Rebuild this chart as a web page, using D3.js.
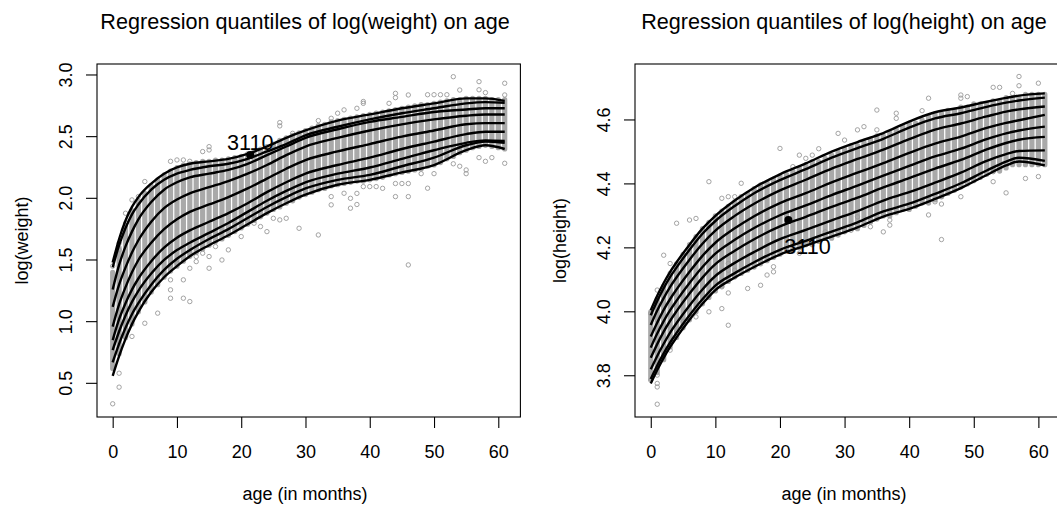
<!DOCTYPE html>
<html>
<head>
<meta charset="utf-8">
<script src="https://cdn.jsdelivr.net/npm/d3@7"></script>
<style>
body { margin: 0; background: #fff; }
text { font-family: "Liberation Sans", Arial, Helvetica, sans-serif; fill: #000; }
</style>
</head>
<body>
<svg id="chart" width="1057" height="508"></svg>
<script>
// ages in months (one column of children per month)
var ages = d3.range(0, 62);
var xTicks = [0, 10, 20, 30, 40, 50, 60];

// ---------- log(weight) panel ----------
var wYTicks = [0.5, 1.0, 1.5, 2.0, 2.5, 3.0];
// dense band of points for each month (low / high end of the grey column)
var wLo = [0.62,0.74,0.87,0.98,1.08,1.16,1.24,1.30,1.36,1.41,1.45,1.49,1.53,1.56,1.59,1.62,1.65,1.67,1.70,1.73,
  1.76,1.79,1.82,1.85,1.88,1.91,1.93,1.96,1.98,2.01,2.03,2.05,2.07,2.08,2.10,2.11,2.12,2.13,2.14,2.14,
  2.15,2.16,2.17,2.19,2.20,2.21,2.22,2.23,2.24,2.26,2.27,2.29,2.32,2.34,2.37,2.39,2.41,2.42,2.43,2.42,2.41,2.40];
var wHi = [1.40,1.60,1.78,1.90,1.98,2.04,2.10,2.15,2.19,2.22,2.25,2.27,2.28,2.29,2.30,2.30,2.31,2.31,2.32,2.33,
  2.34,2.36,2.38,2.40,2.42,2.44,2.47,2.49,2.51,2.53,2.55,2.57,2.59,2.60,2.62,2.63,2.64,2.65,2.66,2.67,
  2.68,2.69,2.70,2.71,2.72,2.73,2.74,2.75,2.76,2.76,2.77,2.78,2.79,2.80,2.80,2.81,2.81,2.81,2.81,2.80,2.80,2.80];
// scattered points outside the dense band [age, log(weight)]
var wOut = [[53,2.986],[57,2.946],[61,2.933],[61,2.838],[54,2.878],[58,2.857],[44,2.851],[46,2.838],[44,2.816],
  [49,2.84],[50,2.84],[51,2.84],[52,2.84],[57,2.88],[39,2.77],[39,2.785],[38,2.73],[43,2.77],[36,2.717],[35,2.69],
  [26,2.614],[26,2.587],[28,2.527],[32,2.63],[34,2.649],[15,2.419],[15,2.392],[14,2.379],[10,2.311],[11,2.311],
  [12,2.30],[9,2.30],[5,2.136],[3,1.987],[4,2.014],[2,1.879],[2,1.798],[1,1.636],[1,1.582],[0,1.45],
  [46,1.46],[32,1.703],[29,1.757],[22,1.798],[24,1.73],[25,1.838],[26,1.825],[27,1.838],[23,1.771],[20,1.69],
  [18,1.582],[17,1.50],[16,1.609],[15,1.528],[15,1.433],[14,1.555],[13,1.487],[13,1.528],[12,1.433],[12,1.555],
  [11,1.339],[9,1.339],[9,1.258],[9,1.19],[11,1.19],[12,1.163],[10,1.474],[9,1.46],[7,1.069],[5,0.987],
  [3,0.88],[2,0.88],[1,0.582],[1,0.469],[0,0.334],[44,2.014],[46,2.014],[49,2.082],[44,2.12],[45,2.12],
  [46,2.12],[48,2.20],[50,2.20],[55,2.23],[55,2.20],[61,2.284],[37,1.92],[38,1.95],[37,2.0],[38,2.04],
  [34,1.947],[34,2.014],[36,2.041],[42,2.081],[41,2.095],[40,2.095],[39,2.095],[58,2.30],[59,2.33],[57,2.33],
  [53,2.28],[54,2.26]];
// regression quantile curves, taus .03 .05 .10 .25 .50 .75 .90 .95 .97
var wCurveAges = [0,1,2,3,4,6,8,10,12,15,18,21,24,27,30,35,40,45,50,55,58,61];
var wq03 = [0.56,0.72,0.86,0.98,1.08,1.24,1.36,1.45,1.53,1.62,1.70,1.79,1.88,1.96,2.03,2.11,2.15,2.21,2.27,2.39,2.43,2.40];
var wq05 = [0.67,0.82,0.95,1.06,1.15,1.30,1.42,1.51,1.58,1.67,1.75,1.84,1.93,2.01,2.08,2.15,2.19,2.26,2.33,2.43,2.46,2.45];
var wq10 = [0.77,0.92,1.05,1.16,1.25,1.39,1.50,1.58,1.64,1.72,1.80,1.89,1.98,2.06,2.13,2.20,2.25,2.32,2.39,2.45,2.47,2.465];
var wq25 = [0.85,1.02,1.15,1.26,1.35,1.49,1.60,1.68,1.74,1.81,1.88,1.96,2.05,2.13,2.20,2.27,2.33,2.40,2.46,2.52,2.54,2.54];
var wq50 = [0.96,1.14,1.28,1.40,1.50,1.64,1.75,1.83,1.89,1.95,2.01,2.08,2.16,2.24,2.31,2.38,2.44,2.50,2.55,2.60,2.61,2.61];
var wq75 = [1.12,1.30,1.44,1.56,1.66,1.81,1.92,1.99,2.04,2.09,2.14,2.20,2.27,2.35,2.42,2.49,2.55,2.60,2.64,2.67,2.68,2.68];
var wq90 = [1.26,1.46,1.61,1.73,1.83,1.97,2.07,2.13,2.17,2.20,2.23,2.28,2.35,2.42,2.49,2.56,2.62,2.66,2.70,2.72,2.73,2.73];
var wq95 = [1.44,1.62,1.76,1.87,1.95,2.07,2.15,2.20,2.23,2.26,2.28,2.32,2.38,2.44,2.51,2.58,2.64,2.69,2.73,2.77,2.78,2.775];
var wq97 = [1.48,1.67,1.82,1.93,2.01,2.12,2.20,2.25,2.28,2.30,2.32,2.36,2.42,2.49,2.55,2.63,2.68,2.73,2.77,2.81,2.81,2.79];
var wMark = {id: "3110", age: 21.4, value: 2.352};

// ---------- log(height) panel ----------
var hYTicks = [3.8, 4.0, 4.2, 4.4, 4.6];
var hLo = [3.79,3.81,3.85,3.89,3.92,3.95,3.975,4.00,4.025,4.045,4.065,4.08,4.095,4.11,4.12,4.13,4.14,4.15,4.16,4.17,
  4.18,4.19,4.19,4.20,4.21,4.21,4.22,4.23,4.23,4.24,4.25,4.26,4.26,4.27,4.28,4.29,4.30,4.30,4.31,4.32,
  4.32,4.33,4.34,4.34,4.35,4.36,4.37,4.38,4.39,4.40,4.41,4.42,4.43,4.44,4.44,4.45,4.46,4.46,4.46,4.46,4.46,4.46];
var hHi = [4.00,4.04,4.08,4.12,4.15,4.18,4.21,4.235,4.26,4.28,4.30,4.315,4.33,4.345,4.36,4.37,4.385,4.395,4.405,4.415,
  4.425,4.43,4.44,4.45,4.46,4.47,4.47,4.48,4.49,4.50,4.51,4.52,4.52,4.53,4.54,4.55,4.55,4.56,4.57,4.58,
  4.59,4.59,4.60,4.61,4.62,4.62,4.63,4.63,4.64,4.64,4.65,4.65,4.65,4.66,4.66,4.67,4.67,4.67,4.68,4.68,4.68,4.68];
var hOut = [[57,4.736],[57,4.707],[60,4.715],[53,4.702],[54,4.702],[56,4.683],[48,4.678],[48,4.668],[49,4.673],
  [43,4.668],[35,4.631],[38,4.621],[38,4.605],[42,4.629],[32,4.569],[33,4.579],[29,4.558],[30,4.537],[35,4.569],
  [20,4.511],[23,4.49],[24,4.48],[25,4.49],[26,4.51],[22,4.454],[9,4.407],[14,4.402],[13,4.36],[12,4.36],
  [11,4.355],[17,4.397],[4,4.277],[6,4.287],[7,4.292],[2,4.177],[3,4.151],[1,4.068],
  [45,4.226],[43,4.303],[48,4.36],[55,4.372],[58,4.417],[60,4.423],[53,4.407],[53,4.438],[45,4.337],
  [44,4.344],[45,4.36],[40,4.334],[37,4.287],[37,4.271],[36,4.25],[34,4.266],[32,4.297],[29,4.25],[30,4.255],
  [31,4.255],[27,4.25],[23,4.183],[19,4.141],[19,4.125],[18,4.115],[17,4.083],[15,4.073],[13,4.13],[13,4.109],
  [12,4.13],[12,4.151],[11,4.078],[12,4.059],[11,4.01],[12,3.958],[9,4.052],[9,4.0],[7,3.984],[5,3.969],
  [3,3.88],[1,3.802],[1,3.711],[1,3.776],[1,3.765],[0,3.786],[0,3.995]];
var hCurveAges = [0,1,2,3,4,6,8,10,13,16,20,24,28,32,36,40,44,48,52,55,57,61];
var hq03 = [3.776,3.818,3.856,3.890,3.920,3.975,4.025,4.068,4.107,4.140,4.179,4.207,4.235,4.264,4.298,4.322,4.353,4.387,4.428,4.458,4.470,4.458];
var hq05 = [3.790,3.832,3.870,3.904,3.934,3.989,4.039,4.082,4.121,4.155,4.194,4.222,4.251,4.280,4.314,4.338,4.369,4.402,4.442,4.470,4.482,4.472];
var hq10 = [3.820,3.862,3.900,3.935,3.965,4.020,4.070,4.112,4.153,4.187,4.227,4.256,4.286,4.315,4.348,4.374,4.404,4.435,4.472,4.493,4.503,4.505];
var hq25 = [3.856,3.899,3.938,3.972,4.002,4.057,4.107,4.149,4.191,4.227,4.267,4.297,4.328,4.357,4.389,4.418,4.448,4.475,4.508,4.528,4.538,4.547];
var hq50 = [3.888,3.932,3.971,4.005,4.035,4.090,4.140,4.182,4.225,4.262,4.302,4.333,4.365,4.395,4.426,4.456,4.486,4.510,4.540,4.558,4.567,4.579];
var hq75 = [3.923,3.966,4.006,4.040,4.070,4.125,4.175,4.216,4.261,4.299,4.340,4.371,4.405,4.435,4.465,4.497,4.526,4.548,4.575,4.591,4.599,4.616];
var hq90 = [3.959,4.004,4.043,4.078,4.108,4.163,4.213,4.254,4.300,4.338,4.380,4.413,4.448,4.478,4.507,4.540,4.570,4.589,4.611,4.626,4.633,4.642];
var hq95 = [3.989,4.034,4.074,4.109,4.139,4.194,4.244,4.284,4.331,4.371,4.412,4.446,4.482,4.512,4.541,4.576,4.605,4.621,4.641,4.654,4.661,4.670];
var hq97 = [4.005,4.050,4.090,4.125,4.155,4.210,4.260,4.300,4.348,4.388,4.430,4.464,4.501,4.531,4.559,4.595,4.624,4.639,4.657,4.669,4.676,4.683];
var hMark = {id: "3110", age: 21.3, value: 4.287};

var svg = d3.select("#chart");

var drawPanel = function(p) {
  var x = d3.scaleLinear().domain([-2.44, 63.44]).range(p.xRange);
  var y = d3.scaleLinear().domain(p.yDomain).range([417, 64]);
  var g = svg.append("g");

  // titles
  g.append("text").attr("x", p.titleX).attr("y", 29)
    .attr("text-anchor", "middle").style("font-size", "21.6px").text(p.title);
  g.append("text").attr("x", p.titleX).attr("y", 500)
    .attr("text-anchor", "middle").style("font-size", "18px").text("age (in months)");
  g.append("text").attr("transform", "translate(" + (p.xRange[0] - 69) + ",240.5) rotate(-90)")
    .attr("text-anchor", "middle").style("font-size", "18px").text(p.yLabel);

  var clipId = "clip" + p.key;
  svg.append("clipPath").attr("id", clipId).append("rect")
    .attr("x", p.xRange[0]).attr("y", 64)
    .attr("width", p.xRange[1] - p.xRange[0]).attr("height", 353);
  var plot = g.append("g").attr("clip-path", "url(#" + clipId + ")");

  // dense columns of overlapping points
  plot.selectAll(".col").data(ages).enter().append("rect")
    .attr("class", "col")
    .attr("x", function(d) { return x(d) - 2.6; })
    .attr("width", 5.2)
    .attr("y", function(d) { return y(p.hi[d]) - 2.6; })
    .attr("height", function(d) { return y(p.lo[d]) - y(p.hi[d]) + 5.2; })
    .attr("rx", 2.6)
    .style("fill", "#a9a9a9");

  // scattered points
  plot.selectAll(".pt").data(p.out).enter().append("circle")
    .attr("class", "pt")
    .attr("cx", function(d) { return x(d[0]); })
    .attr("cy", function(d) { return y(d[1]); })
    .attr("r", 2.2)
    .style("fill", "none").style("stroke", "#999").style("stroke-width", 0.9);

  // quantile curves
  var line = d3.line()
    .x(function(d) { return x(d[0]); })
    .y(function(d) { return y(d[1]); })
    .curve(d3.curveMonotoneX);
  p.curves.forEach(function(vals) {
    plot.append("path")
      .attr("d", line(p.curveAges.map(function(a, i) { return [a, vals[i]]; })))
      .style("fill", "none").style("stroke", "#000").style("stroke-width", 2.4);
  });

  // highlighted observation
  plot.append("circle").attr("cx", x(p.mark.age)).attr("cy", y(p.mark.value))
    .attr("r", 4).style("fill", "#000");
  g.append("text").attr("x", x(p.mark.age) + p.labelDx).attr("y", y(p.mark.value) + p.labelDy)
    .attr("text-anchor", p.labelAnchor).style("font-size", "21.6px").text(p.mark.id);

  // box
  g.append("rect").attr("x", p.xRange[0]).attr("y", 64)
    .attr("width", p.xRange[1] - p.xRange[0]).attr("height", 353)
    .style("fill", "none").style("stroke", "#000").style("stroke-width", 1.1);

  // x axis
  var xa = g.append("g").attr("transform", "translate(0,417)")
    .call(d3.axisBottom(x).tickValues(xTicks).tickSize(11).tickSizeOuter(0).tickPadding(17));
  xa.select(".domain").remove();
  xa.selectAll("line").style("stroke", "#000").style("stroke-width", 1.1);
  xa.selectAll("text").style("font-size", "18px").style("font-family", null);

  // y axis (labels turned like R's las=0)
  var ya = g.append("g");
  ya.selectAll("line").data(p.yTicks).enter().append("line")
    .attr("x1", p.xRange[0]).attr("x2", p.xRange[0] - 11)
    .attr("y1", function(d) { return y(d); }).attr("y2", function(d) { return y(d); })
    .style("stroke", "#000").style("stroke-width", 1.1);
  ya.selectAll("text").data(p.yTicks).enter().append("text")
    .attr("transform", function(d) { return "translate(" + (p.xRange[0] - 25.5) + "," + y(d) + ") rotate(-90)"; })
    .attr("text-anchor", "middle").style("font-size", "18px")
    .text(function(d) { return d3.format(".1f")(d); });
};

drawPanel({
  key: "w", title: "Regression quantiles of log(weight) on age", titleX: 305, yLabel: "log(weight)",
  xRange: [97, 520.4], yDomain: [0.227, 3.089], yTicks: wYTicks,
  lo: wLo, hi: wHi, out: wOut, curveAges: wCurveAges,
  curves: [wq03, wq05, wq10, wq25, wq50, wq75, wq90, wq95, wq97],
  mark: wMark, labelDx: 0, labelDy: -5, labelAnchor: "middle"
});
drawPanel({
  key: "h", title: "Regression quantiles of log(height) on age", titleX: 844, yLabel: "log(height)",
  xRange: [635, 1060.6], yDomain: [3.671, 4.775], yTicks: hYTicks,
  lo: hLo, hi: hHi, out: hOut, curveAges: hCurveAges,
  curves: [hq03, hq05, hq10, hq25, hq50, hq75, hq90, hq95, hq97],
  mark: hMark, labelDx: -4, labelDy: 34, labelAnchor: "start"
});
</script>
</body>
</html>
